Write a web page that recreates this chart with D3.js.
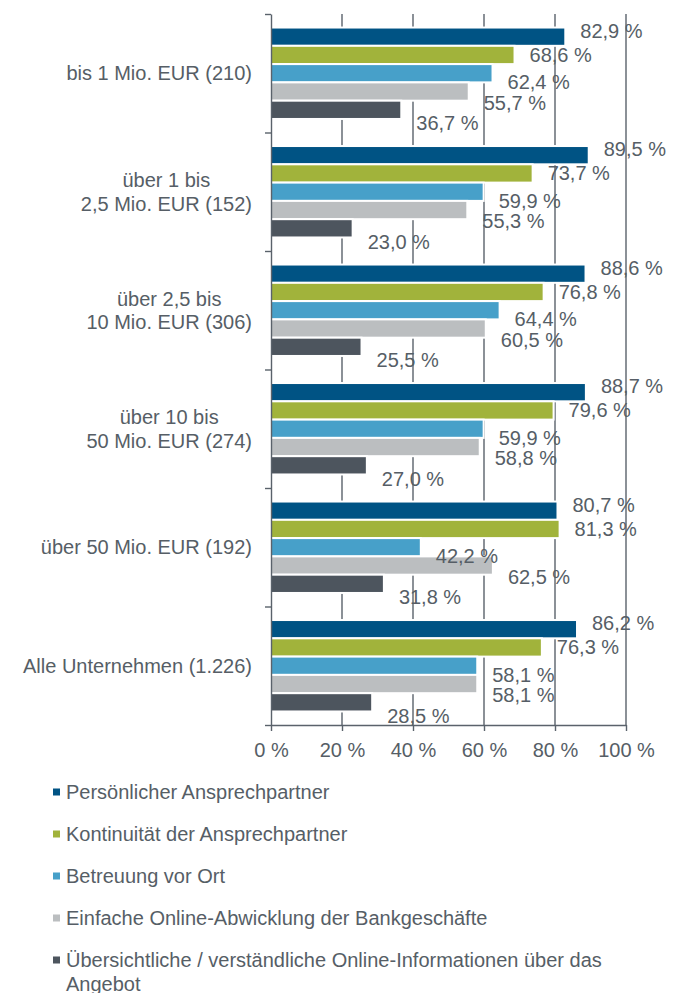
<!DOCTYPE html>
<html>
<head>
<meta charset="utf-8">
<script src="https://cdn.jsdelivr.net/npm/d3@7"></script>
<style>
  body { margin: 0; background: #fff; }
  text { font-family: "Liberation Sans", Arial, sans-serif; fill: #565e66; }
</style>
</head>
<body>
<script>
// Umsatzklassen (Anzahl Antworten)
const categories = [
    'bis 1 Mio. EUR (210)',
    'über 1 bis\n2,5 Mio. EUR (152)',
    'über 2,5 bis\n10 Mio. EUR (306)',
    'über 10 bis\n50 Mio. EUR (274)',
    'über 50 Mio. EUR (192)',
    'Alle Unternehmen (1.226)'
]

const seriesNames = [
    'Persönlicher Ansprechpartner',
    'Kontinuität der Ansprechpartner',
    'Betreuung vor Ort',
    'Einfache Online-Abwicklung der Bankgeschäfte',
    'Übersichtliche / verständliche Online-Informationen über das Angebot'
]

const persoenlich   = [82.9, 89.5, 88.6, 88.7, 80.7, 86.2]
const kontinuitaet  = [68.6, 73.7, 76.8, 79.6, 81.3, 76.3]
const vorOrt        = [62.4, 59.9, 64.4, 59.9, 42.2, 58.1]
const onlineAbwickl = [55.7, 55.3, 60.5, 58.8, 62.5, 58.1]
const onlineInfo    = [36.7, 23.0, 25.5, 27.0, 31.8, 28.5]

const xTicks = [0, 20, 40, 60, 80, 100]

const series = [persoenlich, kontinuitaet, vorOrt, onlineAbwickl, onlineInfo]
const colors = ['#005384', '#a1b33b', '#47a0c9', '#bbbec0', '#4d555e']
// label nudges, like the excel original
const labelDy = [-6, 0, 9, 11, 13.5]

const width = 676, height = 993
const axisColor = '#5a626b'

const de = d3.formatLocale({ decimal: ',', thousands: '.', grouping: [3], currency: ['', ' €'] })
const fmt = de.format('.1f')

const svg = d3.select('body')
    .append('svg')
    .attr('width', width)
    .attr('height', height)

const x = d3.scaleLinear().domain([0, 100]).range([271, 626])
const y = d3.scaleBand().domain(categories).range([14, 725])
const inner = d3.scaleBand()
    .domain(d3.range(series.length))
    .range([0, y.bandwidth()])
    .paddingOuter(0.74)

// gridlines
svg.append('g')
    .selectAll('line')
    .data(xTicks.slice(1))
    .enter().append('line')
    .attr('x1', d => x(d))
    .attr('x2', d => x(d))
    .attr('y1', y.range()[0])
    .attr('y2', y.range()[1])
    .attr('stroke', axisColor)
    .attr('stroke-width', 1.4)

// bars
const rows = categories.map((c, i) => series.map((s, j) => ({ cat: c, s: j, v: s[i] })))

const groups = svg.append('g')
    .selectAll('g')
    .data(rows)
    .enter().append('g')
    .attr('transform', d => `translate(0,${y(d[0].cat)})`)

groups.selectAll('rect')
    .data(d => d)
    .enter().append('rect')
    .attr('x', x(0))
    .attr('y', d => inner(d.s))
    .attr('width', d => x(d.v) - x(0))
    .attr('height', inner.bandwidth())
    .attr('fill', d => colors[d.s])
    .attr('stroke', '#fff')
    .attr('stroke-width', 2)

// axes
const yLin = d3.scaleLinear().domain([0, categories.length]).range(y.range())
svg.append('g')
    .attr('transform', `translate(${x(0)},0)`)
    .call(d3.axisLeft(yLin).tickValues(d3.range(categories.length + 1)).tickFormat('').tickSize(6).tickSizeOuter(0))
    .call(g => g.selectAll('path,line').attr('stroke', axisColor).attr('stroke-width', 1.4))

svg.append('g')
    .attr('transform', `translate(0,${y.range()[1]})`)
    .call(d3.axisBottom(x).tickValues(xTicks).tickFormat(d => d + ' %').tickSize(6).tickSizeOuter(0))
    .call(g => g.selectAll('path,line').attr('stroke', axisColor).attr('stroke-width', 1.4))
    .call(g => g.selectAll('text')
        .attr('y', 18)
        .style('font-size', '20px')
        .style('font-family', '"Liberation Sans", Arial, sans-serif')
        .attr('fill', '#565e66'))

// value labels
groups.selectAll('text')
    .data(d => d)
    .enter().append('text')
    .attr('x', d => x(d.v) + 15)
    .attr('y', d => inner(d.s) + inner.bandwidth() / 2 + labelDy[d.s])
    .attr('dy', '0.35em')
    .style('font-size', '20px')
    .text(d => fmt(d.v) + ' %')

// category labels
const labelRight = x(0) - 19
const lineH = 23.5
categories.forEach(c => {
    const lines = c.split('\n')
    const cy = y(c) + y.bandwidth() / 2
    const t = svg.append('g')
    const tx = lines.map((l, k) => t.append('text')
        .attr('y', cy + (k - (lines.length - 1) / 2) * lineH)
        .attr('dy', '0.35em')
        .style('font-size', '20px')
        .text(l))
    const maxW = d3.max(tx, s => s.node().getComputedTextLength())
    tx.forEach(s => s.attr('x', labelRight - maxW / 2).attr('text-anchor', 'middle'))
})

// legend
const legendTop = 792, legendStep = 42, maxLegendW = 645
const legend = svg.append('g')
    .selectAll('g')
    .data(seriesNames)
    .enter().append('g')
    .attr('transform', (d, i) => `translate(0,${legendTop + i * legendStep})`)

legend.append('rect')
    .attr('x', 53)
    .attr('y', -3.5)
    .attr('width', 7)
    .attr('height', 7)
    .attr('fill', (d, i) => colors[i])

legend.each(function (name) {
    const g = d3.select(this).append('g').attr('transform', 'translate(66,0)')
    const words = name.split(' ')
    let line = [], lineNo = 0
    let t = g.append('text').attr('dy', '0.35em').style('font-size', '20px')
    words.forEach(w => {
        line.push(w)
        t.text(line.join(' '))
        if (t.node().getComputedTextLength() > maxLegendW - 66 && line.length > 1) {
            line.pop()
            t.text(line.join(' '))
            line = [w]
            lineNo++
            t = g.append('text')
                .attr('y', lineNo * 23.5)
                .attr('dy', '0.35em')
                .style('font-size', '20px')
                .text(w)
        }
    })
})
</script>
</body>
</html>
